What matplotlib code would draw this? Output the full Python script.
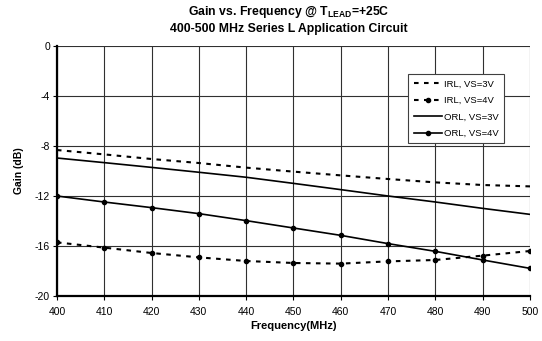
import matplotlib
matplotlib.use('Agg')
import matplotlib.pyplot as plt
import numpy as np

plt.rcParams['font.family'] = ['Liberation Sans', 'DejaVu Sans']

freq = [400, 410, 420, 430, 440, 450, 460, 470, 480, 490, 500]
irl_3v = [-8.32, -8.67, -9.04, -9.36, -9.73, -10.05, -10.35, -10.64, -10.91, -11.12, -11.23]
irl_4v = [-15.71, -16.13, -16.56, -16.91, -17.2, -17.36, -17.41, -17.23, -17.12, -16.77, -16.4]
orl_3v = [-8.96, -9.33, -9.71, -10.1, -10.5, -10.99, -11.49, -12.0, -12.48, -12.99, -13.47]
orl_4v = [-12.0, -12.48, -12.93, -13.41, -13.97, -14.56, -15.15, -15.81, -16.43, -17.12, -17.79]

x_ticks = np.arange(400, 501, 10)
y_ticks = np.arange(-20, 1, 4)

fig = plt.figure(figsize=(5.42, 3.41), dpi=100)
ax = fig.add_axes([0.105, 0.132, 0.873, 0.733])

dash = (0, (2.2, 2.6))
ax.plot(freq, irl_3v, color='black', linestyle=dash, linewidth=1.5, label='IRL, VS=3V')
ax.plot(freq, irl_4v, color='black', linestyle=dash, linewidth=1.5, marker='o',
        markersize=3, label='IRL, VS=4V')
ax.plot(freq, orl_3v, color='black', linestyle='-', linewidth=1.2, label='ORL, VS=3V')
ax.plot(freq, orl_4v, color='black', linestyle='-', linewidth=1.2, marker='o',
        markersize=3, label='ORL, VS=4V')

ax.set_xlim(400, 500)
ax.set_ylim(-20, 0)
ax.set_xticks(x_ticks)
ax.set_yticks(y_ticks)
ax.set_yticklabels([str(v) for v in y_ticks])
ax.grid(True, color='#303030', linewidth=0.8)
ax.set_axisbelow(True)

for side in ['top', 'right']:
    ax.spines[side].set_visible(False)
ax.spines['left'].set_linewidth(1.6)
ax.spines['bottom'].set_linewidth(1.6)
ax.tick_params(axis='both', labelsize=7.5, length=3, width=0.8, direction='out', pad=2)
ax.tick_params(axis='x', pad=5)

ax.set_xlabel('Frequency(MHz)', fontsize=8, fontweight='bold', labelpad=3)
ax.set_ylabel('Gain (dB)', fontsize=7.5, fontweight='bold', labelpad=8)

fig.text(0.532, 0.965, r'Gain vs. Frequency @ T$_{\mathregular{LEAD}}$=+25C',
         ha='center', va='center', fontsize=8.8, fontweight='bold')
fig.text(0.532, 0.915, '400-500 MHz Series L Application Circuit',
         ha='center', va='center', fontsize=8.8, fontweight='bold')

leg = ax.legend(loc='upper left', bbox_to_anchor=(0.743, 0.887), fontsize=6.8,
                frameon=True, fancybox=False, edgecolor='#404040', framealpha=1,
                handlelength=3.0, handletextpad=0.2, borderpad=0.55, labelspacing=0.8,
                borderaxespad=0)
leg.get_frame().set_linewidth(0.8)

fig.savefig('out.png', dpi=100, facecolor='white')
